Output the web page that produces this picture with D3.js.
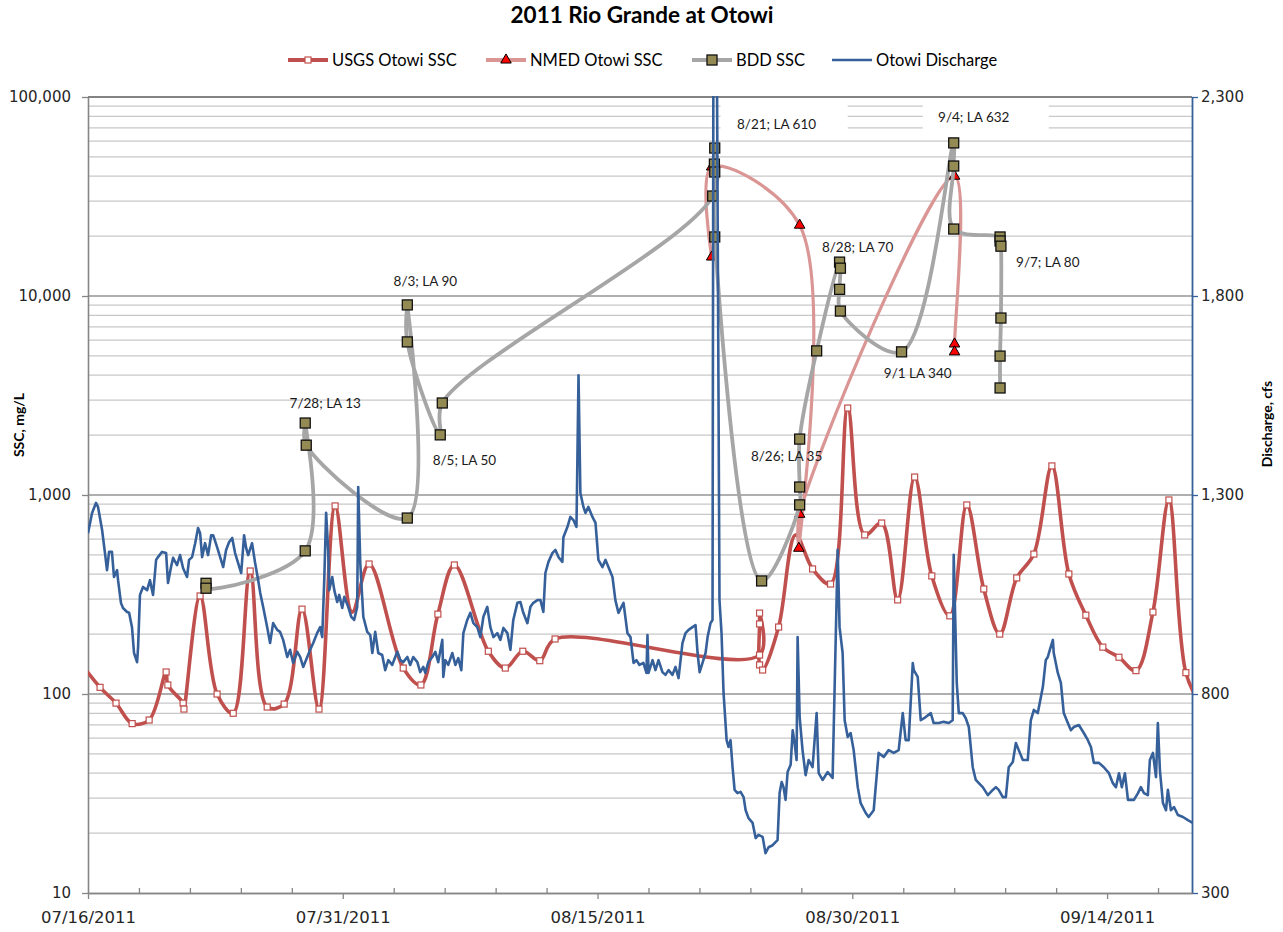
<!DOCTYPE html>
<html>
<head>
<meta charset="utf-8">
<script src="https://cdn.jsdelivr.net/npm/d3@7"></script>
<style>
  html, body { margin: 0; padding: 0; background: #ffffff; }
  svg { display: block; }
</style>
</head>
<body>
<svg id="chart" width="1283" height="932"></svg>
<script>
// ---------------------------------------------------------------
// 2011 Rio Grande at Otowi: suspended sediment (log, left axis)
// and discharge (linear, right axis).
// Times are fractional days after 07/16/2011 00:00.
// ---------------------------------------------------------------

// USGS Otowi SSC, mg/L
const usgsDays = [-0.35, 0.71, 1.65, 2.6, 3.6, 4.6, 4.7, 5.6, 5.65, 6.6, 7.6, 8.55, 9.55, 10.55, 11.55,
  12.6, 13.6, 14.55, 15.55, 16.55, 18.56, 19.6, 20.6, 21.57, 23.57, 24.57, 25.6, 26.6, 27.5,
  39.54, 39.54, 39.54, 39.54, 39.72, 40.66, 41.66, 42.66, 43.72, 44.73, 45.73, 46.73, 47.67,
  48.67, 49.68, 50.74, 51.74, 52.74, 53.68, 54.68, 55.69, 56.75, 57.75, 58.75, 59.75, 60.7,
  61.7, 62.7, 63.64, 64.64, 65.6];
const usgsSSC = [140, 108, 90, 71, 74, 129, 111, 90, 84, 311, 100, 80, 415, 86, 89,
  267, 84, 881, 258, 450, 135, 111, 252, 445, 164, 135, 164, 147, 189,
  157, 255, 225, 140, 132, 217, 630, 425, 357, 2735, 630, 723, 297,
  1231, 392, 247, 891, 337, 200, 383, 505, 1400, 401, 249, 172, 153,
  131, 258, 944, 128, 85];
// samples shown with a marker (the rest only shape the line)
const usgsMarked = usgsDays.map((d, i) => i !== 0 && i !== 18 && i !== 35 && i !== usgsDays.length - 1);

// NMED Otowi SSC, mg/L
const nmedDays = [36.72, 36.72, 41.9, 41.85, 41.9, 51.02, 51.02, 51.02];
const nmedSSC = [15700, 44500, 22700, 540, 800, 40000, 5740, 5240];

// BDD SSC, mg/L
const bddDays = [6.95, 6.95, 12.79, 12.79, 12.85, 18.8, 18.8, 18.8, 20.74, 20.86,
  36.78, 36.9, 36.88, 36.9, 36.9, 39.66, 41.9, 41.9, 41.9, 42.9,
  44.25, 44.3, 44.25, 44.3, 47.9, 50.97, 50.97, 50.97,
  53.7, 53.7, 53.75, 53.75, 53.7, 53.7];
const bddSSC = [360, 340, 524, 2300, 1780, 766, 9020, 5880, 2005, 2900,
  31800, 55400, 46000, 42000, 19800, 370, 892, 1097, 1910, 5300,
  14800, 13800, 10800, 8400, 5240, 58800, 45000, 21700,
  19800, 18900, 17800, 7750, 4990, 3450];

// Otowi discharge, cfs
const flowDays = [0, 0.24, 0.47, 0.59, 0.83, 1.0, 1.12, 1.24, 1.41, 1.53, 1.71, 1.77, 1.94, 2.06, 2.30, 2.42,
  2.59, 2.71, 2.89, 2.95, 3.06, 3.24, 3.48, 3.65, 3.83, 4.01, 4.12, 4.36, 4.60, 4.71, 4.89, 5.01,
  5.24, 5.42, 5.60, 5.83, 5.95, 6.13, 6.31, 6.48, 6.60, 6.72, 6.89, 7.07, 7.25, 7.37, 7.60, 7.78,
  7.96, 8.13, 8.31, 8.49, 8.66, 8.84, 9.02, 9.19, 9.31, 9.43, 9.66, 9.84, 10.02, 10.14, 10.31, 10.55,
  10.72, 10.90, 11.14, 11.31, 11.49, 11.73, 11.90, 12.08, 12.32, 12.49, 12.67, 12.91, 13.08, 13.26, 13.49, 13.67,
  13.79, 13.91, 14.02, 14.14, 14.20, 14.38, 14.50, 14.67, 14.79, 14.97, 15.09, 15.32, 15.50, 15.67, 15.85, 15.91,
  16.03, 16.21, 16.44, 16.62, 16.74, 16.91, 17.09, 17.32, 17.50, 17.68, 17.91, 18.21, 18.39, 18.56, 18.80, 18.97,
  19.15, 19.39, 19.56, 19.74, 19.86, 20.04, 20.27, 20.45, 20.62, 20.86, 20.92, 21.04, 21.21, 21.45, 21.63, 21.80,
  21.98, 22.10, 22.33, 22.51, 22.69, 22.92, 23.10, 23.28, 23.51, 23.69, 23.87, 24.10, 24.28, 24.46, 24.69, 24.87,
  25.04, 25.28, 25.46, 25.63, 25.87, 26.05, 26.22, 26.46, 26.64, 26.81, 26.93, 27.11, 27.34, 27.52, 27.70, 27.93,
  27.99, 28.23, 28.40, 28.58, 28.76, 28.88, 28.99, 29.17, 29.29, 29.46, 29.70, 29.88, 30.05, 30.29, 30.47, 30.64,
  30.88, 31.05, 31.23, 31.53, 31.76, 31.94, 32.12, 32.29, 32.47, 32.70, 32.88, 32.94, 33.00, 33.24, 33.41, 33.59,
  33.82, 34.00, 34.18, 34.41, 34.59, 34.77, 35.00, 35.18, 35.36, 35.59, 35.77, 35.89, 36.01, 36.18, 36.36, 36.48,
  36.65, 36.77, 36.83, 37.01, 37.18, 37.30, 37.42, 37.60, 37.71, 37.83, 37.95, 38.07, 38.24, 38.42, 38.60, 38.72,
  38.89, 39.13, 39.31, 39.48, 39.72, 39.89, 40.07, 40.31, 40.48, 40.60, 40.72, 40.84, 40.95, 41.07, 41.19, 41.37,
  41.49, 41.60, 41.72, 41.78, 41.90, 42.07, 42.25, 42.43, 42.66, 42.90, 43.02, 43.25, 43.55, 43.84, 43.96, 44.14,
  44.25, 44.43, 44.55, 44.73, 44.90, 45.08, 45.32, 45.49, 45.79, 45.96, 46.26, 46.55, 46.85, 47.14, 47.44, 47.73,
  47.97, 48.14, 48.32, 48.56, 48.62, 48.85, 49.03, 49.32, 49.62, 49.79, 50.09, 50.38, 50.68, 50.91, 50.97, 51.15,
  51.27, 51.50, 51.68, 51.86, 52.09, 52.27, 52.45, 52.68, 52.98, 53.27, 53.45, 53.62, 53.86, 54.04, 54.21, 54.45,
  54.63, 54.80, 55.04, 55.33, 55.51, 55.69, 55.92, 56.22, 56.39, 56.51, 56.63, 56.81, 56.86, 57.10, 57.28, 57.45,
  57.69, 57.87, 58.04, 58.34, 58.63, 58.87, 59.05, 59.22, 59.52, 59.81, 60.11, 60.34, 60.52, 60.70, 60.87, 61.05,
  61.23, 61.40, 61.58, 61.82, 61.99, 62.17, 62.40, 62.52, 62.70, 62.88, 62.99, 63.11, 63.29, 63.47, 63.58, 63.76,
  63.94, 64.17, 64.47, 64.76, 65.06];
const flowCfs = [1204, 1255, 1280, 1270, 1212, 1154, 1111, 1157, 1157, 1094, 1111, 1086, 1029, 1016, 1006, 1004,
  968, 903, 880, 918, 1049, 1069, 1061, 1086, 1049, 1137, 1144, 1157, 1154, 1079, 1119, 1142,
  1124, 1149, 1116, 1094, 1137, 1144, 1179, 1217, 1204, 1144, 1179, 1149, 1199, 1199, 1169, 1144,
  1119, 1162, 1182, 1192, 1154, 1129, 1104, 1199, 1167, 1149, 1179, 1129, 1086, 1054, 1019, 968,
  928, 978, 961, 956, 936, 893, 911, 878, 906, 893, 868, 893, 911, 928, 953, 968,
  943, 1086, 1255, 1162, 1061, 1094, 1061, 1031, 1049, 1016, 1044, 1019, 994, 986, 1019, 1320,
  1129, 994, 956, 948, 903, 956, 903, 898, 860, 885, 873, 906, 885, 880, 893, 873,
  893, 880, 855, 868, 853, 880, 893, 906, 880, 936, 843, 885, 873, 903, 873, 890,
  860, 953, 986, 1004, 978, 968, 943, 994, 1019, 968, 943, 953, 936, 966, 953, 911,
  986, 1029, 1031, 1004, 978, 1019, 1029, 1036, 1036, 1006, 1104, 1132, 1154, 1162, 1144, 1132,
  1194, 1220, 1245, 1237, 1220, 1601, 1305, 1270, 1255, 1270, 1245, 1230, 1137, 1119, 1137, 1119,
  1094, 1036, 1004, 1029, 953, 943, 878, 885, 873, 878, 853, 948, 853, 885, 860, 885,
  855, 848, 860, 848, 868, 840, 928, 953, 961, 968, 973, 903, 855, 878, 903, 943,
  978, 986, 2650, 2550, 1036, 953, 802, 684, 667, 684, 616, 559, 551, 554, 541, 508,
  488, 476, 438, 446, 441, 400, 415, 420, 428, 433, 551, 579, 566, 534, 604, 622,
  709, 677, 634, 943, 742, 659, 596, 634, 616, 752, 601, 584, 604, 589, 818, 1162,
  968, 903, 734, 692, 702, 659, 566, 526, 501, 491, 508, 652, 642, 659, 652, 659,
  752, 684, 684, 878, 860, 843, 734, 742, 752, 727, 727, 730, 727, 734, 1150, 828,
  752, 752, 739, 717, 616, 584, 576, 566, 546, 559, 566, 559, 541, 541, 616, 629,
  677, 659, 634, 634, 734, 760, 752, 818, 885, 893, 911, 936, 903, 853, 828, 752,
  727, 709, 717, 722, 702, 684, 667, 627, 627, 616, 601, 576, 566, 601, 566, 601,
  534, 534, 534, 551, 566, 551, 546, 634, 652, 591, 727, 609, 526, 508, 559, 508,
  516, 496, 491, 483, 476];

// Storm annotations (text, anchor day, anchor SSC)
const noteText = ["7/28; LA 13", "8/3; LA 90", "8/5; LA 50", "8/21; LA 610", "8/26; LA 35",
  "8/28; LA 70", "9/1 LA 340", "9/4; LA 632", "9/7; LA 80"];
const noteDay = [13.97, 19.86, 22.16, 40.54, 41.13, 45.31, 48.85, 52.15, 56.51];
const noteSSC = [2735, 11220, 1416, 69000, 1483, 16630, 3873, 74800, 13990];
// white backing boxes behind two annotations: [from day, to day, top SSC, bottom SSC]
const noteBoxes = [[37.24, 44.73, 97700, 62960], [49.15, 56.57, 97700, 62960]];

// Axis ticks
const sscTicks = [10, 100, 1000, 10000, 100000];
const flowTicks = [300, 800, 1300, 1800, 2300];
const dateTickDays = [0, 15, 30, 45, 60];

const seriesNames = ["USGS Otowi SSC", "NMED Otowi SSC", "BDD SSC", "Otowi Discharge"];

// ---------------------------------------------------------------
const START = new Date(2011, 6, 16);
const END = new Date(2011, 8, 19);
const toDate = d => new Date(START.getTime() + d * 864e5);

const L = 88, R = 1192, T = 97, B = 893;
const svg = d3.select("#chart");
const x = d3.scaleTime().domain([START, END]).range([L, R]);
const yS = d3.scaleLog().domain([10, 100000]).range([B, T]);
const yQ = d3.scaleLinear().domain([300, 2300]).range([B, T]);

const C = {
  usgs: "#C0504D", nmed: "#DA9694", bdd: "#A6A6A6", bddFill: "#948A54",
  flow: "#36609A", grid: "#C8C8C8", gridMajor: "#959595", axis: "#868686", text: "#262626"
};
const LATO = "Lato, 'Open Sans', sans-serif";
const TICKFONT = "'DejaVu Sans', Verdana, sans-serif";

svg.append("defs").append("clipPath").attr("id", "plotClip")
  .append("rect").attr("x", L).attr("y", T - 1).attr("width", R - L).attr("height", B - T + 1);

// gridlines: minor (2..9 per decade) then decades
const minorVals = [];
for (let e = 1; e < 5; e++) for (let m = 2; m <= 9; m++) minorVals.push(m * Math.pow(10, e));
const grid = svg.append("g");
grid.selectAll("line.minor").data(minorVals).join("line")
  .attr("x1", L).attr("x2", R).attr("y1", d => yS(d)).attr("y2", d => yS(d))
  .attr("stroke", C.grid).attr("stroke-width", 1.3);
grid.selectAll("line.major").data(sscTicks.slice(1)).join("line")
  .attr("x1", L).attr("x2", R).attr("y1", d => yS(d)).attr("y2", d => yS(d))
  .attr("stroke", d => d === 100000 ? "#5a5a5a" : C.gridMajor).attr("stroke-width", 1.6);

// annotation backing boxes (sit over the gridlines)
svg.append("g").selectAll("rect").data(noteBoxes).join("rect")
  .attr("x", d => x(toDate(d[0]))).attr("width", d => x(toDate(d[1])) - x(toDate(d[0])))
  .attr("y", d => yS(d[2])).attr("height", d => yS(d[3]) - yS(d[2]))
  .attr("fill", "#ffffff");

// axes
const axLeft = svg.append("g").attr("transform", `translate(${L},0)`)
  .call(d3.axisLeft(yS).tickValues(sscTicks).tickFormat(d3.format(",")).tickSize(6).tickSizeOuter(0).tickPadding(11));
const axRight = svg.append("g").attr("transform", `translate(${R},0)`)
  .call(d3.axisRight(yQ).tickValues(flowTicks).tickFormat(d3.format(",")).tickSize(6).tickSizeOuter(0).tickPadding(3));
const axBottom = svg.append("g").attr("transform", `translate(0,${B})`)
  .call(d3.axisBottom(x).tickValues(dateTickDays.map(toDate)).tickFormat(d3.timeFormat("%m/%d/%Y"))
    .tickSize(6).tickSizeOuter(0).tickPadding(12));
const minorDays = d3.range(0, 66, 3).filter(d => d % 15 !== 0);
const axBottomMinor = svg.append("g").attr("transform", `translate(0,${B})`)
  .call(d3.axisBottom(x).tickValues(minorDays.map(toDate)).tickFormat("").tickSize(-5).tickSizeOuter(0));

[axLeft, axBottom, axBottomMinor].forEach(a => {
  a.select(".domain").attr("stroke", C.axis).attr("stroke-width", 1.6);
  a.selectAll(".tick line").attr("stroke", C.axis).attr("stroke-width", 1.3);
});
axRight.select(".domain").attr("stroke", C.flow).attr("stroke-width", 1.8);
axRight.selectAll(".tick line").attr("stroke", C.flow).attr("stroke-width", 1.3);
[axLeft, axRight].forEach(a => a.selectAll(".tick text")
  .attr("font-family", TICKFONT).attr("font-size", 15).attr("fill", C.text));
axBottom.selectAll(".tick text")
  .attr("font-family", TICKFONT).attr("font-size", 16.5).attr("fill", C.text);

// series
const series = svg.append("g").attr("clip-path", "url(#plotClip)");
const smooth = d3.curveCatmullRom.alpha(0.5);
const lineS = d3.line().x(d => x(toDate(d[0]))).y(d => yS(d[1])).curve(smooth);
const zip = (a, b) => a.map((v, i) => [v, b[i]]);

const usgs = zip(usgsDays, usgsSSC);
const nmed = zip(nmedDays, nmedSSC);
const bdd = zip(bddDays, bddSSC);
const flow = zip(flowDays, flowCfs);

series.append("path").datum(usgs).attr("d", lineS).attr("fill", "none")
  .attr("stroke", C.usgs).attr("stroke-width", 3.6).attr("stroke-linejoin", "round");
series.append("g").selectAll("rect").data(usgs.filter((d, i) => usgsMarked[i])).join("rect")
  .attr("x", d => x(toDate(d[0])) - 3).attr("y", d => yS(d[1]) - 3)
  .attr("width", 6).attr("height", 6)
  .attr("fill", "#ffffff").attr("stroke", C.usgs).attr("stroke-width", 1.2);

const tri = d3.symbol().type(d3.symbolTriangle).size(48);
series.append("path").datum(nmed).attr("d", lineS).attr("fill", "none")
  .attr("stroke", C.nmed).attr("stroke-width", 3.2);
series.append("g").selectAll("path").data(nmed).join("path")
  .attr("d", tri).attr("transform", d => `translate(${x(toDate(d[0]))},${yS(d[1])})`)
  .attr("fill", "#FF0000").attr("stroke", "#000").attr("stroke-width", 1);

series.append("path").datum(bdd).attr("d", lineS).attr("fill", "none")
  .attr("stroke", C.bdd).attr("stroke-width", 3.8);
series.append("g").selectAll("rect").data(bdd).join("rect")
  .attr("x", d => x(toDate(d[0])) - 5).attr("y", d => yS(d[1]) - 5)
  .attr("width", 10).attr("height", 10)
  .attr("fill", C.bddFill).attr("stroke", "#111").attr("stroke-width", 1.3);

const lineQ = d3.line().x(d => x(toDate(d[0]))).y(d => yQ(d[1]));
series.append("path").datum(flow).attr("d", lineQ).attr("fill", "none")
  .attr("stroke", C.flow).attr("stroke-width", 2.6).attr("stroke-linejoin", "round");

// annotations
svg.append("g").selectAll("text").data(noteText).join("text")
  .attr("x", (d, i) => x(toDate(noteDay[i]))).attr("y", (d, i) => yS(noteSSC[i]))
  .attr("text-anchor", "middle").attr("font-family", LATO).attr("font-size", 13.5)
  .attr("fill", "#1a1a1a").text(d => d);

// title
svg.append("text").attr("x", 642).attr("y", 23).attr("text-anchor", "middle")
  .attr("font-family", LATO).attr("font-weight", "bold").attr("font-size", 22.5)
  .attr("fill", "#000").text("2011 Rio Grande at Otowi");

// axis titles
svg.append("text").attr("transform", "translate(24,425) rotate(-90)").attr("text-anchor", "middle")
  .attr("font-family", LATO).attr("font-weight", "bold").attr("font-size", 14)
  .attr("fill", "#000").text("SSC, mg/L");
svg.append("text").attr("transform", "translate(1272,424) rotate(-90)").attr("text-anchor", "middle")
  .attr("font-family", LATO).attr("font-weight", "bold").attr("font-size", 14)
  .attr("fill", "#000").text("Discharge, cfs");

// legend
const legX = [288, 486, 692, 832];
const legY = 60;
const leg = svg.append("g");
seriesNames.forEach((name, i) => {
  const g = leg.append("g").attr("transform", `translate(${legX[i]},${legY})`);
  const col = [C.usgs, C.nmed, C.bdd, C.flow][i];
  g.append("line").attr("x1", 0).attr("x2", 40).attr("stroke", col)
    .attr("stroke-width", i === 3 ? 2.6 : 3.8);
  if (i === 0) g.append("rect").attr("x", 17).attr("y", -3).attr("width", 6).attr("height", 6)
    .attr("fill", "#fff").attr("stroke", C.usgs).attr("stroke-width", 1.2);
  if (i === 1) g.append("path").attr("d", tri).attr("transform", "translate(20,0)")
    .attr("fill", "#FF0000").attr("stroke", "#000").attr("stroke-width", 1);
  if (i === 2) g.append("rect").attr("x", 15).attr("y", -5).attr("width", 10).attr("height", 10)
    .attr("fill", C.bddFill).attr("stroke", "#111").attr("stroke-width", 1.3);
  g.append("text").attr("x", 44).attr("y", 6).attr("font-family", LATO).attr("font-size", 16.5)
    .attr("fill", "#000").text(name);
});
</script>
</body>
</html>
